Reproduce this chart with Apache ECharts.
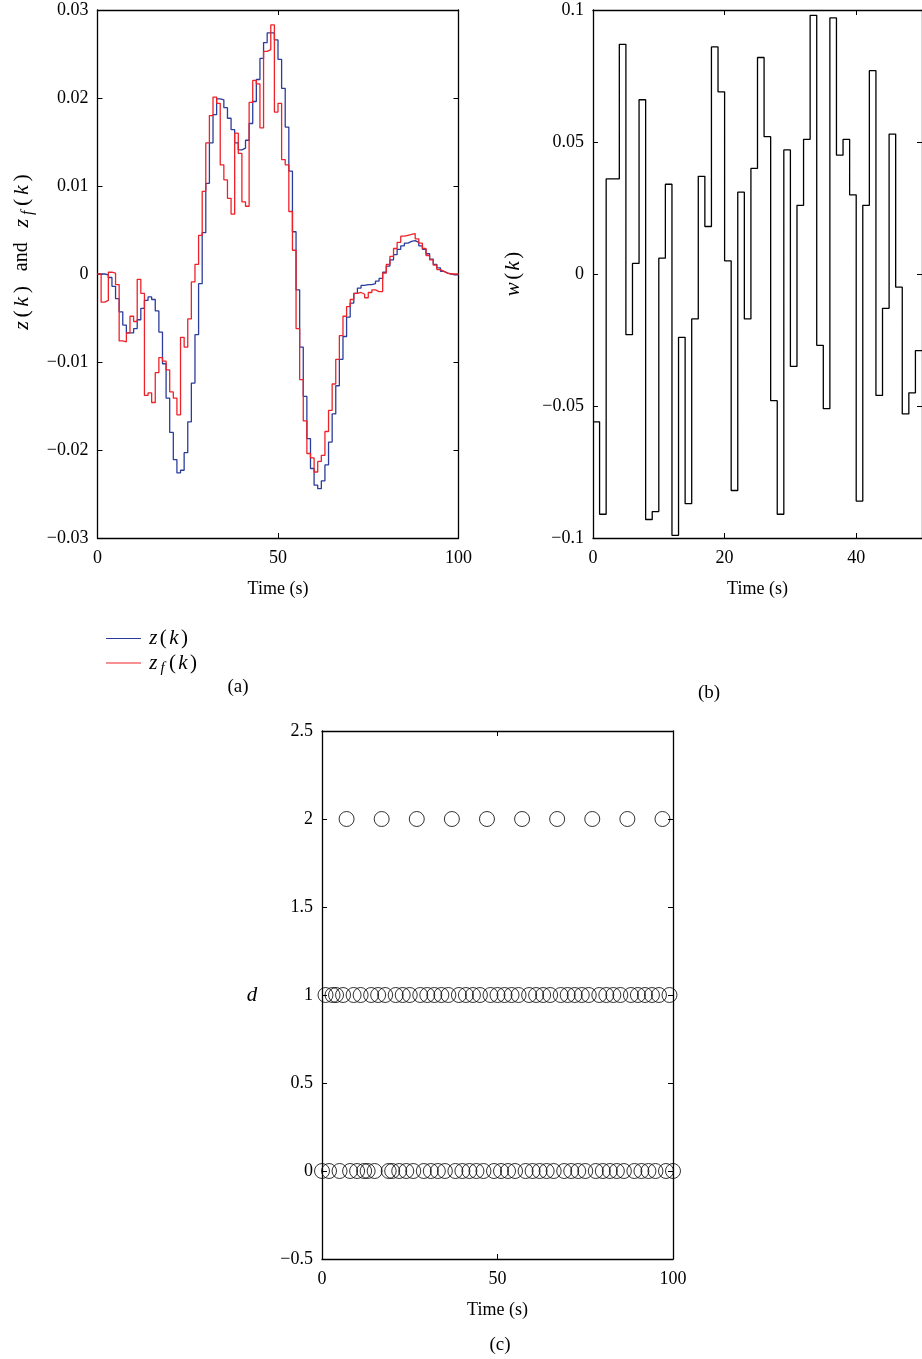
<!DOCTYPE html>
<html><head><meta charset="utf-8">
<script src="https://cdn.jsdelivr.net/npm/echarts@6/dist/echarts.min.js"></script>
<style>html,body{margin:0;padding:0;background:#fff}#c{width:922px;height:1359px}</style>
</head><body><div id="c"></div>
<script>
// ---- data (sampled every 1 s) ----
const zValues = [0.0000,0.0000,-0.0001,-0.0004,-0.0014,-0.0028,-0.0043,-0.0058,-0.0067,-0.0067,
 -0.0062,-0.0052,-0.0039,-0.0030,-0.0026,-0.0029,-0.0042,-0.0066,-0.0102,-0.0141,
 -0.0180,-0.0211,-0.0226,-0.0223,-0.0203,-0.0168,-0.0124,-0.0069,-0.0011,0.0047,
 0.0103,0.0149,0.0181,0.0199,0.0198,0.0189,0.0177,0.0164,0.0149,0.0141,
 0.0143,0.0152,0.0171,0.0196,0.0221,0.0245,0.0263,0.0274,0.0274,0.0266,
 0.0244,0.0211,0.0167,0.0117,0.0048,-0.0018,-0.0083,-0.0139,-0.0187,-0.0221,
 -0.0240,-0.0244,-0.0235,-0.0217,-0.0191,-0.0159,-0.0127,-0.0097,-0.0071,-0.0049,
 -0.0033,-0.0022,-0.0016,-0.0013,-0.0012,-0.0012,-0.0011,-0.0008,-0.0005,0.0002,
 0.0009,0.0016,0.0022,0.0028,0.0032,0.0035,0.0037,0.0038,0.0036,0.0032,
 0.0028,0.0023,0.0017,0.0011,0.0007,0.0003,0.0001,0.0000,-0.0001,-0.0001];
const zfValues = [0.0000,-0.0032,-0.0030,0.0002,0.0001,-0.0012,-0.0076,-0.0077,-0.0067,-0.0048,
 -0.0054,-0.0006,-0.0022,-0.0138,-0.0135,-0.0146,-0.0112,-0.0095,-0.0099,-0.0109,
 -0.0134,-0.0141,-0.0160,-0.0072,-0.0083,-0.0051,-0.0009,0.0011,0.0044,0.0094,
 0.0149,0.0180,0.0201,0.0194,0.0124,0.0107,0.0086,0.0068,0.0160,0.0137,
 0.0082,0.0077,0.0195,0.0220,0.0216,0.0166,0.0253,0.0255,0.0283,0.0184,
 0.0194,0.0130,0.0124,0.0071,0.0027,-0.0062,-0.0120,-0.0167,-0.0204,-0.0209,
 -0.0225,-0.0213,-0.0206,-0.0179,-0.0155,-0.0125,-0.0097,-0.0070,-0.0048,-0.0037,
 -0.0029,-0.0022,-0.0021,-0.0023,-0.0027,-0.0021,-0.0018,-0.0020,-0.0020,0.0001,
 0.0011,0.0020,0.0029,0.0036,0.0043,0.0044,0.0045,0.0046,0.0040,0.0035,
 0.0029,0.0021,0.0016,0.0010,0.0005,0.0003,0.0001,0.0000,0.0000,0.0000];
const wValues = [-0.056,-0.091,0.036,0.036,0.087,-0.023,0.004,0.066,-0.093,-0.090,
 0.006,0.034,-0.099,-0.024,-0.087,-0.017,0.037,0.018,0.086,0.069,
 0.005,-0.082,0.031,-0.017,0.040,0.082,0.052,-0.048,-0.091,0.047,
 -0.035,0.026,0.051,0.098,-0.027,-0.051,0.097,0.045,0.051,0.030,
 -0.086,0.026,0.077,-0.046,-0.013,0.053,-0.005,-0.053,-0.045,-0.029];
const dValues = [0,1,0,1,1,0,1,2,0,1,
 0,1,0,0,1,0,1,2,1,0,
 0,1,0,1,0,1,0,2,1,0,
 1,0,1,0,1,0,1,2,0,1,
 0,1,0,1,0,1,0,2,1,0,
 1,0,1,0,1,0,1,2,0,1,
 0,1,0,1,0,1,0,2,1,0,
 1,0,1,0,1,0,1,2,0,1,
 0,1,0,1,0,1,0,2,1,0,
 1,0,1,0,1,0,1,2,0,1,0];
const seriesNames = ['z(k)', 'z_f(k)'];
const xTicksA = [0, 100, 50], yTicksA = [-0.03, 0.03, 0.01];
const xTicksB = [0, 50, 20], yTicksB = [-0.1, 0.1, 0.05];
const xTicksC = [0, 100, 50], yTicksC = [-0.5, 2.5, 0.5];

const FONT = "'Liberation Serif', 'Times New Roman', serif";
const FS = 18;
function fmt(v){ if (Math.abs(v) < 1e-12) return '0'; const s = String(parseFloat(Math.abs(v).toFixed(4))); return (v < 0 ? '\u2212' : '') + s; }
function stairs(vals){ const out = vals.map((v,i)=>[i,v]); out.push([vals.length, vals[vals.length-1]]); return out; }

const lineS = {color:'#000', width:1.3};
function xAx(g, t, top, name, hideMax){
  return {gridIndex:g, type:'value', min:t[0], max:t[1], interval:t[2], position: top?'top':'bottom',
    axisLine:{show:true, onZero:false, lineStyle:lineS},
    axisTick:{show:true, inside:true, length:5, lineStyle:{color:'#000', width:1}},
    axisLabel:{show:!top, color:'#000', fontFamily:FONT, fontSize:FS, margin:11, formatter:fmt, showMaxLabel: !hideMax},
    splitLine:{show:false},
    name: top?'':name, nameLocation:'middle', nameGap:42,
    nameTextStyle:{color:'#000', fontFamily:FONT, fontSize:FS}};
}
function yAx(g, t, right){
  return {gridIndex:g, type:'value', min:t[0], max:t[1], interval:t[2], position: right?'right':'left',
    axisLine:{show:true, onZero:false, lineStyle:lineS},
    axisTick:{show:true, inside:true, length:5, lineStyle:{color:'#000', width:1}},
    axisLabel:{show:!right, color:'#000', fontFamily:FONT, fontSize:FS, margin:9, formatter:fmt},
    splitLine:{show:false}};
}
const richMath = {
  i:{fontStyle:'italic', fontFamily:FONT, fontSize:21, lineHeight:26, padding:[0,1.2,0,1.2], color:'#000'},
  n:{fontFamily:FONT, fontSize:21, lineHeight:26, padding:[0,1.2,0,1.2], color:'#000'},
  s:{fontStyle:'italic', fontFamily:FONT, fontSize:15, lineHeight:26, padding:[0,3,0,2], verticalAlign:'bottom', color:'#000'}
};
const richLabel = {
  i:{fontStyle:'italic', fontFamily:FONT, fontSize:22, lineHeight:28, padding:[0,1.8,0,1.8], color:'#000'},
  n:{fontFamily:FONT, fontSize:22, lineHeight:28, padding:[0,1.8,0,1.8], color:'#000'},
  a:{fontFamily:FONT, fontSize:20, lineHeight:28, padding:[0,13,0,13], color:'#000'},
  s:{fontStyle:'italic', fontFamily:FONT, fontSize:16, lineHeight:28, padding:[0,3,0,2], verticalAlign:'bottom', color:'#000'}
};

const chart = echarts.init(document.getElementById('c'), null, {renderer:'canvas'});
chart.setOption({
  animation:false,
  backgroundColor:'#fff',
  grid:[
    {left:97.5, top:10, width:361, height:528},
    {left:593, top:10, width:333, height:528},
    {left:322, top:731, width:351, height:528}
  ],
  xAxis:[xAx(0,xTicksA,false,'Time (s)'), xAx(0,xTicksA,true),
         xAx(1,xTicksB,false,'Time (s)',true), xAx(1,xTicksB,true),
         xAx(2,xTicksC,false,'Time (s)'), xAx(2,xTicksC,true)],
  yAxis:[yAx(0,yTicksA,false), yAx(0,yTicksA,true),
         yAx(1,yTicksB,false), yAx(1,yTicksB,true),
         yAx(2,yTicksC,false), yAx(2,yTicksC,true)],
  legend:{show:true, orient:'vertical', left:101, top:623, itemWidth:35, itemHeight:14, itemGap:3.5,
    data:seriesNames, icon:'path://M0,10 L35,10 L35,11.2 L0,11.2 Z',
    formatter: n => n === 'z(k)' ? '{i|z}{n|(}{i|k}{n|)}' : '{i|z}{s|f}{n|(}{i|k}{n|)}',
    textStyle:{color:'#000', fontFamily:FONT, fontSize:20, padding:[0,0,0,2], rich:richMath}},
  series:[
    {name:seriesNames[0], type:'line', xAxisIndex:0, yAxisIndex:0, step:'end', symbol:'none',
     data:stairs(zValues), lineStyle:{color:'#2b3d9c', width:1.3}, itemStyle:{color:'#2b3d9c'}, z:2},
    {name:seriesNames[1], type:'line', xAxisIndex:0, yAxisIndex:0, step:'end', symbol:'none',
     data:stairs(zfValues), lineStyle:{color:'#ee2229', width:1.3}, itemStyle:{color:'#ee2229'}, z:3},
    {name:'w(k)', type:'line', xAxisIndex:2, yAxisIndex:2, step:'end', symbol:'none',
     data:stairs(wValues), lineStyle:{color:'#000', width:1.3}},
    {name:'d', type:'scatter', xAxisIndex:4, yAxisIndex:4, symbol:'circle', symbolSize:15, clip:false,
     data:dValues.map((d,i)=>[i,d]), itemStyle:{color:'rgba(0,0,0,0)', borderColor:'#000', borderWidth:1}}
  ],
  graphic:[
    {type:'text', x:22, y:252, rotation:Math.PI/2, style:{text:'{i|z}{n|(}{i|k}{n|)}{a|and}{i|z}{s|f}{n|(}{i|k}{n|)}', rich:richLabel, align:'center', verticalAlign:'middle'}},
    {type:'text', x:513, y:274, rotation:Math.PI/2, style:{text:'{i|w}{n|(}{i|k}{n|)}', rich:richMath, align:'center', verticalAlign:'middle'}},
    {type:'text', x:252, y:995, style:{text:'{i|d}', rich:richMath, align:'center', verticalAlign:'middle'}},
    {type:'text', x:238, y:687, style:{text:'(a)', fill:'#000', font:(FS+1)+'px '+FONT, align:'center', verticalAlign:'middle'}},
    {type:'text', x:709, y:693, style:{text:'(b)', fill:'#000', font:(FS+1)+'px '+FONT, align:'center', verticalAlign:'middle'}},
    {type:'text', x:500, y:1345, style:{text:'(c)', fill:'#000', font:(FS+1)+'px '+FONT, align:'center', verticalAlign:'middle'}}
  ]
});
</script></body></html>
